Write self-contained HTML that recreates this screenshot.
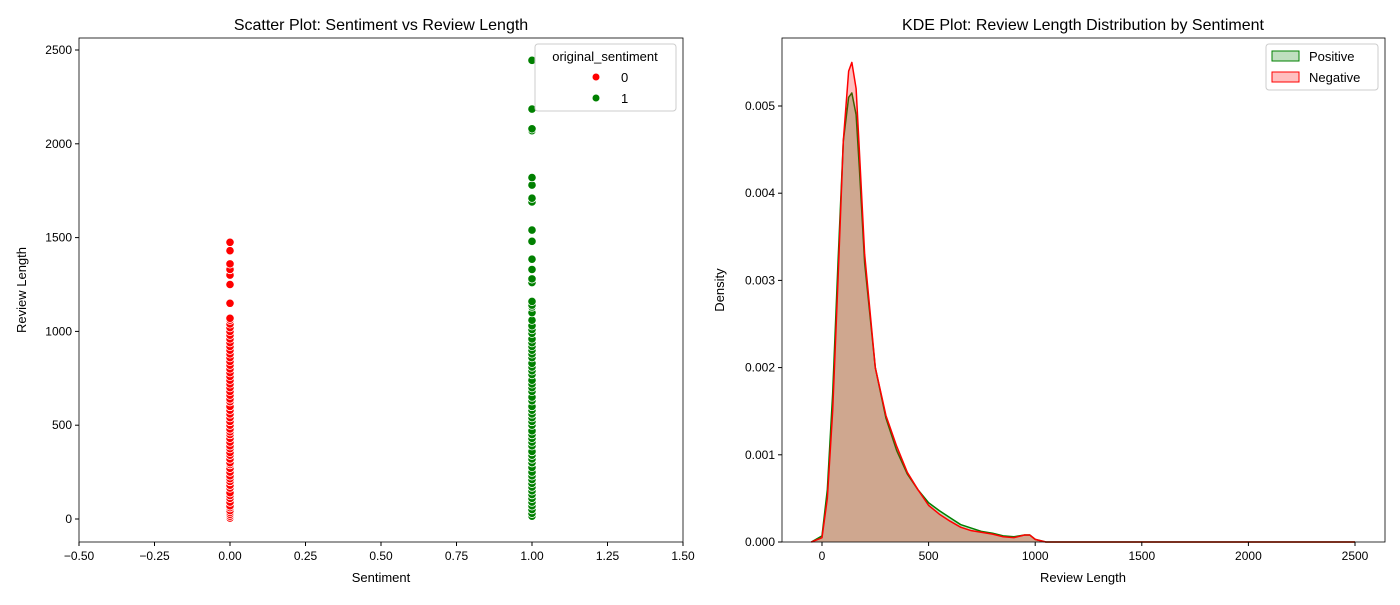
<!DOCTYPE html>
<html><head><meta charset="utf-8"><style>
body{margin:0;background:#fff;font-family:"Liberation Sans","DejaVu Sans",sans-serif;}
svg text{font-family:"Liberation Sans","DejaVu Sans",sans-serif;}
</style></head><body>
<svg id="c" width="1400" height="600" xmlns="http://www.w3.org/2000/svg"></svg>
<script>
const negLengths=[5,15,25,35,45,60,70,90,110,125,140,165,180,200,215,230,250,270,290,300,320,340,355,375,390,410,430,450,465,480,500,520,540,560,580,600,625,640,660,680,700,720,740,760,780,800,820,840,860,880,900,920,940,960,980,1000,1020,1040,1060,1070,1150,1250,1300,1330,1360,1430,1475];
const posLengths=[15,30,50,70,90,110,130,150,170,190,210,230,250,275,300,320,340,360,390,410,430,450,470,500,520,540,560,580,600,630,650,680,700,720,740,770,790,810,830,860,880,900,920,940,960,990,1010,1030,1060,1100,1130,1140,1160,1260,1280,1330,1385,1480,1540,1690,1710,1780,1820,2070,2080,2185,2445];
const kdeX=[-50,0,25,50,75,100,125,140,160,175,200,250,300,350,400,450,500,550,600,650,700,750,800,850,900,950,975,1000,1050,1500,2000,2500];
const kdeNeg=[0,0.00005,0.0005,0.0015,0.003,0.0046,0.0054,0.0055,0.0052,0.0045,0.0033,0.002,0.00145,0.0011,0.0008,0.0006,0.00042,0.00032,0.00024,0.00017,0.00013,0.00011,0.00009,0.00006,0.00005,0.00008,0.00008,0.00003,0,0,0,0];
const kdePos=[0,0.00007,0.0006,0.0017,0.0032,0.0046,0.0051,0.00515,0.0049,0.0043,0.0032,0.002,0.00142,0.00105,0.00078,0.0006,0.00045,0.00036,0.00028,0.0002,0.00016,0.00012,0.0001,0.00007,0.00006,0.00008,0.00008,0.00003,0,0,0,0];
const leftXTicks=[-0.5,-0.25,0,0.25,0.5,0.75,1,1.25,1.5];
const leftYTicks=[0,500,1000,1500,2000,2500];
const rightXTicks=[0,500,1000,1500,2000,2500];
const rightYTicks=[0,0.001,0.002,0.003,0.004,0.005];

const svg=document.getElementById('c');
const NS='http://www.w3.org/2000/svg';
function el(t,a,txt){const e=document.createElementNS(NS,t);for(const k in a)e.setAttribute(k,a[k]);if(txt!==undefined)e.textContent=txt;svg.appendChild(e);return e;}

const L={x0:79,x1:683,y0:38,y1:542};
const lx=v=>230+(v-0)*(532-230);
const ly=v=>519-v*(519-50)/2500;
for(const v of negLengths){const c=el('circle',{cx:lx(0),cy:ly(v),r:4.2,fill:'#ff0000',stroke:'#fff','stroke-width':0.8});

}
for(const v of posLengths){const c=el('circle',{cx:lx(1),cy:ly(v),r:4.2,fill:'#008000',stroke:'#fff','stroke-width':0.8});

}
let f=el('rect',{x:L.x0,y:L.y0,width:L.x1-L.x0,height:L.y1-L.y0,fill:'none',stroke:'#000','stroke-width':0.8});


for(const t of leftXTicks){const x=lx(t);el('line',{x1:x,x2:x,y1:L.y1,y2:L.y1+4,stroke:'#000'});
const s=el('text',{x:x,y:L.y1+18,'font-size':12,'text-anchor':'middle'},t.toFixed(2).replace('-','\u2212'));

}
for(const t of leftYTicks){const y=ly(t);el('line',{x1:L.x0-4,x2:L.x0,y1:y,y2:y,stroke:'#000'});
const s=el('text',{x:L.x0-7,y:y+4,'font-size':12,'text-anchor':'end'},String(t));

}
let t1=el('text',{x:381,y:30,'font-size':16,'text-anchor':'middle'},'Scatter Plot: Sentiment vs Review Length');

let t2=el('text',{x:381,y:582,'font-size':13,'text-anchor':'middle'},'Sentiment');

let t3=el('text',{x:26,y:290,'font-size':13,'text-anchor':'middle',transform:'rotate(-90 26 290)'},'Review Length');

let lg=el('rect',{x:535,y:44,width:141,height:67,rx:3,fill:'#fff','fill-opacity':0.8,stroke:'#ccc'});

el('text',{x:605,y:61,'font-size':13,'text-anchor':'middle'},'original_sentiment');
el('circle',{cx:596,cy:77,r:3.5,fill:'#ff0000'});el('text',{x:621,y:82,'font-size':13},'0');
el('circle',{cx:596,cy:98,r:3.5,fill:'#008000'});el('text',{x:621,y:103,'font-size':13},'1');

const R={x0:782,x1:1385,y0:38,y1:542};
const rx=v=>822+v*(1355-822)/2500;
const ry=v=>542-v*(542-106)/0.005;
function area(arr,fill,stroke,name){
let d='M'+rx(kdeX[0])+','+ry(0);
kdeX.forEach((x,i)=>{d+=' L'+rx(x)+','+ry(arr[i]);});
d+=' L'+rx(kdeX[kdeX.length-1])+','+ry(0)+' Z';
const p=el('path',{d:d,fill:fill,'fill-opacity':0.25,stroke:'none'});

let d2='';kdeX.forEach((x,i)=>{d2+=(i?' L':'M')+rx(x)+','+ry(arr[i]);});
const l=el('path',{d:d2,fill:'none',stroke:stroke,'stroke-width':1.5,'stroke-linejoin':'round'});
}
area(kdePos,'#008000','#008000','kde-positive');
area(kdeNeg,'#ff0000','#ff0000','kde-negative');
f=el('rect',{x:R.x0,y:R.y0,width:R.x1-R.x0,height:R.y1-R.y0,fill:'none',stroke:'#000','stroke-width':0.8});

for(const t of rightXTicks){const x=rx(t);el('line',{x1:x,x2:x,y1:R.y1,y2:R.y1+4,stroke:'#000'});
const s=el('text',{x:x,y:R.y1+18,'font-size':12,'text-anchor':'middle'},String(t));
}
for(const t of rightYTicks){const y=ry(t);el('line',{x1:R.x0-4,x2:R.x0,y1:y,y2:y,stroke:'#000'});
const s=el('text',{x:R.x0-7,y:y+4,'font-size':12,'text-anchor':'end'},t.toFixed(3));
}
t1=el('text',{x:1083,y:30,'font-size':16,'text-anchor':'middle'},'KDE Plot: Review Length Distribution by Sentiment');

t2=el('text',{x:1083,y:582,'font-size':13,'text-anchor':'middle'},'Review Length');

t3=el('text',{x:724,y:290,'font-size':13,'text-anchor':'middle',transform:'rotate(-90 724 290)'},'Density');

lg=el('rect',{x:1266,y:44,width:112,height:46,rx:3,fill:'#fff','fill-opacity':0.8,stroke:'#ccc'});

el('rect',{x:1272,y:51,width:27,height:10,fill:'#bfdfbf',stroke:'#008000'});el('text',{x:1309,y:61,'font-size':13},'Positive');
el('rect',{x:1272,y:72,width:27,height:10,fill:'#ffbfbf',stroke:'#ff0000'});el('text',{x:1309,y:82,'font-size':13},'Negative');
</script>
</body></html>
